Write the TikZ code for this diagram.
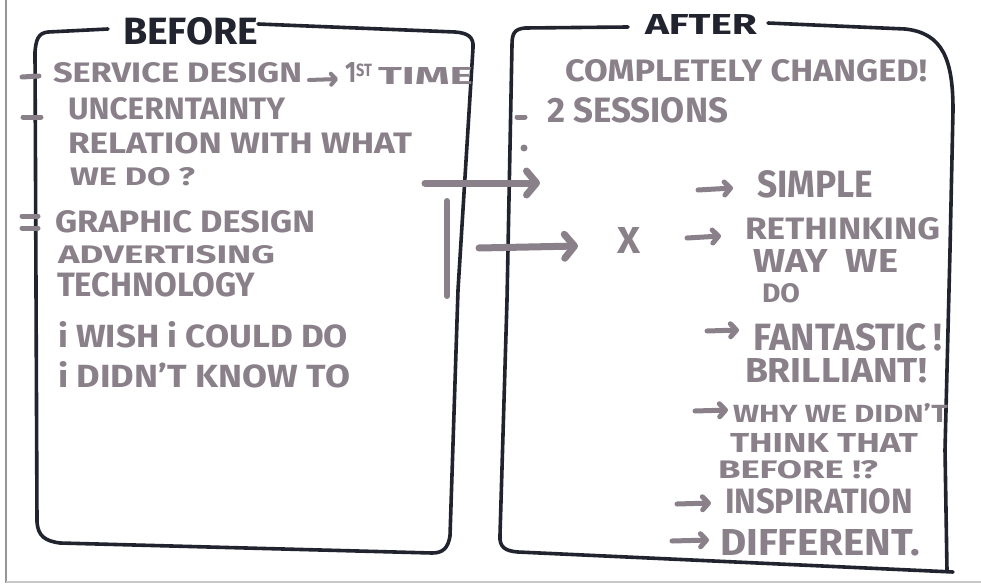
\documentclass[tikz,border=0pt]{standalone}
\usepackage{fontspec}
\setmainfont{Fira Sans}
\usepackage{graphicx}
\usetikzlibrary{arrows.meta}
\definecolor{ink}{RGB}{138,128,138}
\definecolor{pen}{RGB}{33,36,46}
\definecolor{framegray}{RGB}{150,150,150}
\definecolor{framelight}{RGB}{200,200,200}
\newcommand{\hw}[3]{\resizebox{#1pt}{#2pt}{#3}}
\begin{document}
\begin{tikzpicture}[x=1pt,y=-1pt,
  txt/.style={inner sep=0pt, outer sep=0pt, anchor=base west, text=ink, font=\bfseries},
  hdr/.style={inner sep=0pt, outer sep=0pt, anchor=base west, text=pen, font=\bfseries},
  boxline/.style={draw=pen, line width=3.6pt, line cap=round, line join=round},
  stroke/.style={draw=ink, line width=5pt, line cap=round},
  smallarrow/.style={draw=ink, line width=5pt, line cap=round, -{Straight Barb[round,length=6pt 0,width=13pt 0]}},
  bigarrow/.style={draw=ink, line width=7pt, line cap=round, -{Straight Barb[round,length=10pt 0,width=24pt 0]}},
]
\fill[white] (0,0) rectangle (981,583);
\useasboundingbox (0,0) rectangle (981,583);
% page frame
\draw[framegray, line width=2.5pt] (6,0) -- (6,583);
\draw[framelight, line width=2pt] (6,581.5) -- (981,581.5);

% BEFORE box
\draw[boxline] (108,29) -- (48,32) .. controls (38,33) and (36,40) .. (35,52)
  -- (37,522) .. controls (38,536) and (45,541) .. (60,543) -- (432,553)
  .. controls (443,553) and (448,548) .. (450,536) -- (458,290) -- (473,48)
  .. controls (474,37) and (468,33) .. (455,32) -- (258,24);
\node[hdr] (before) at (123,45) {\hw{135}{27}{BEFORE}};

% AFTER box
\draw[boxline] (628,27) -- (525,28) .. controls (514,29) and (512,34) .. (512,45)
  -- (507,300) -- (500,535) .. controls (499,547) and (505,551) .. (518,552) -- (953,572);
\draw[boxline] (768,23) -- (905,29) .. controls (943,33) and (953,60) .. (953,110)
  -- (950,250) -- (945,450) -- (947,571);
\node[hdr] (after) at (645,35) {\hw{112}{20}{AFTER}};

% left column
\draw[stroke] (22,77) -- (39,76);
\node[txt] (l1a) at (53,83) {\hw{249}{20}{SERVICE DESIGN}};
\coordinate (s1) at (309,80);
\coordinate (e1) at (338,79);
\draw[draw=ink, line width=4pt, line cap=round, -{Straight Barb[round,length=5pt 0,width=11pt 0]}] (s1) -- (e1);
\node[txt] (l1b) at (345,83) {\hw{27}{20}{1\raisebox{0.21em}{\scalebox{0.6}{ST}}}};
\node[txt] (l1c) at (378,85) {\hw{95}{17}{TIME}};

\draw[stroke] (23,117) -- (41,117);
\node[txt] (l2) at (68,120) {\hw{217}{22}{UNCERNTAINTY}};
\node[txt] (l3) at (68,153) {\hw{344}{21}{RELATION WITH WHAT}};
\node[txt] (l4) at (70,185) {\hw{125}{18}{WE DO ?}};

\draw[stroke] (22,216) -- (38,216);
\draw[stroke] (22,228) -- (38,228);
\node[txt] (l5) at (55,232) {\hw{260}{22}{GRAPHIC DESIGN}};
\node[txt] (l6) at (58,263) {\hw{217}{18}{ADVERTISING}};
\node[txt] (l7) at (57,296) {\hw{198}{24}{TECHNOLOGY}};
\node[txt] (l8) at (58,347) {\hw{290}{26}{i WISH i COULD DO}};
\node[txt] (l9) at (58,387) {\hw{292}{26}{i DIDN'T KNOW TO}};

% connectors between the boxes
\coordinate (a1s) at (425,183);
\coordinate (a1e) at (540,183);
\draw[bigarrow] (a1s) -- (a1e);
\coordinate (vs) at (447,201);
\coordinate (ve) at (447,296);
\draw[draw=ink, line width=6pt, line cap=round] (vs) -- (ve);
\coordinate (a2s) at (479,248);
\coordinate (a2e) at (578,246);
\draw[bigarrow] (a2s) -- (a2e);

% right column
\node[txt] (r1) at (565,82) {\hw{362}{22}{COMPLETELY CHANGED!}};
\draw[stroke] (517,117) -- (525,117);
\node[txt] (r2) at (547,122) {\hw{181}{25}{2 SESSIONS}};
\fill[ink] (524,148) circle (3.5);

\node[txt] (x) at (617,253) {\hw{23}{26}{X}};

\coordinate (b1s) at (698,190);
\coordinate (b1e) at (733,188);
\draw[smallarrow] (b1s) -- (b1e);
\node[txt] (r3) at (757,197) {\hw{116}{27}{SIMPLE}};

\coordinate (b2s) at (687,238);
\coordinate (b2e) at (721,236);
\draw[smallarrow] (b2s) -- (b2e);
\node[txt] (r4) at (745,239) {\hw{195}{22}{RETHINKING}};
\node[txt] (r5) at (753,272) {\hw{145}{23}{WAY\ \ WE}};
\node[txt] (r6) at (762,302) {\hw{38}{19}{DO}};

\coordinate (b3s) at (707,331);
\coordinate (b3e) at (739,330);
\draw[smallarrow] (b3s) -- (b3e);
\node[txt] (r7) at (753,350) {\hw{189}{27}{FANTASTIC\,!}};
\node[txt] (r8) at (745,382) {\hw{182}{24}{BRILLIANT!}};

\coordinate (b4s) at (695,411);
\coordinate (b4e) at (728,410);
\draw[smallarrow] (b4s) -- (b4e);
\node[txt] (r9) at (733,422) {\hw{215}{19}{WHY WE DIDN'T}};
\node[txt] (r10) at (730,452) {\hw{188}{19}{THINK THAT}};
\node[txt] (r11) at (718,478) {\hw{160}{18}{BEFORE !?}};

\coordinate (b5s) at (677,504);
\coordinate (b5e) at (711,503);
\draw[smallarrow] (b5s) -- (b5e);
\node[txt] (r12) at (725,513) {\hw{188}{25}{INSPIRATION}};

\coordinate (b6s) at (672,541);
\coordinate (b6e) at (709,540);
\draw[smallarrow] (b6s) -- (b6e);
\node[txt] (r13) at (720,555) {\hw{200}{26}{DIFFERENT.}};
\end{tikzpicture}
\end{document}
